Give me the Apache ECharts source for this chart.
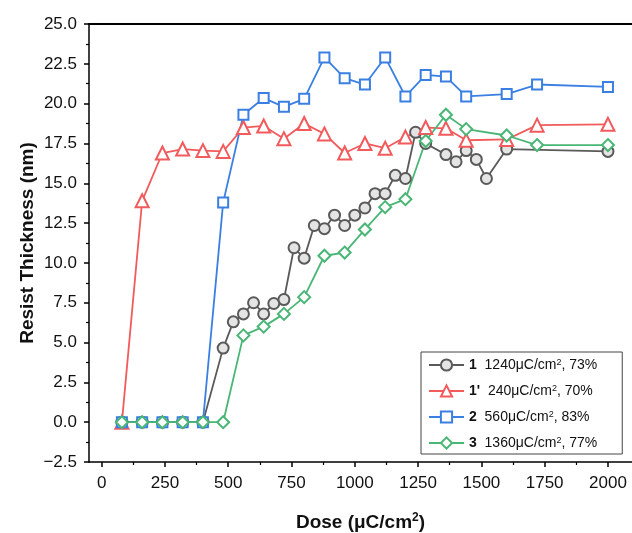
<!DOCTYPE html>
<html>
<head>
<meta charset="utf-8">
<script src="https://cdn.jsdelivr.net/npm/echarts@6/dist/echarts.min.js"></script>
<style>
html,body{margin:0;padding:0;background:#fff;}
#chart{width:632px;height:533px;}
</style>
</head>
<body>
<div id="chart"></div>
<script>
// ---- data ----
var doseGray = [80,160,240,320,400,480,520,560,600,640,680,720,760,800,840,880,920,960,1000,1040,1080,1120,1160,1200,1240,1280,1360,1400,1440,1480,1520,1600,2000];
var thickGray = [0,0,0,0,0,4.65,6.3,6.8,7.5,6.8,7.45,7.7,10.95,10.3,12.35,12.15,13.0,12.35,13.0,13.45,14.35,14.35,15.5,15.3,18.2,17.5,16.8,16.35,17.05,16.5,15.3,17.15,17.0];

var doseRed = [80,160,240,320,400,480,560,640,720,800,880,960,1040,1120,1200,1280,1360,1440,1600,1720,2000];
var thickRed = [0,13.9,16.9,17.15,17.05,17.0,18.5,18.6,17.8,18.75,18.1,16.9,17.5,17.2,17.9,18.5,18.45,17.7,17.75,18.65,18.7];

var doseBlue = [80,160,240,320,400,480,560,640,720,800,880,960,1040,1120,1200,1280,1360,1440,1600,1720,2000];
var thickBlue = [0,0,0,0,0,13.8,19.3,20.35,19.8,20.3,22.9,21.6,21.2,22.9,20.45,21.8,21.7,20.45,20.6,21.2,21.05];

var doseGreen = [80,160,240,320,400,480,560,640,720,800,880,960,1040,1120,1200,1280,1360,1440,1600,1720,2000];
var thickGreen = [0,0,0,0,0,0,5.45,6.0,6.8,7.85,10.45,10.65,12.1,13.5,14.0,17.65,19.3,18.4,18.0,17.4,17.4];

var xTickValues = [0,250,500,750,1000,1250,1500,1750,2000];
var xMinorValues = [125,375,625,875,1125,1375,1625,1875];

var seriesNames = ['1', "1'", '2', '3'];
var legendLabels = {
  '1': ['1', '1240μC/cm', '2', ', 73%'],
  "1'": ["1'", '240μC/cm', '2', ', 70%'],
  '2': ['2', '560μC/cm', '2', ', 83%'],
  '3': ['3', '1360μC/cm', '2', ', 77%']
};

function pairs(xs, ys) { return xs.map(function (x, i) { return [x, ys[i]]; }); }

var FONT = '"Liberation Sans", Arial, sans-serif';

var chart = echarts.init(document.getElementById('chart'), null, {renderer: 'canvas'});

function lineSeries(name, xs, ys, color, symbol, size, fill) {
  return {
    name: name, type: 'line', xAxisIndex: 0, yAxisIndex: 0,
    data: pairs(xs, ys),
    symbol: symbol, symbolSize: size,
    showAllSymbol: true,
    lineStyle: {color: color, width: 1.8},
    itemStyle: {color: fill, borderColor: color, borderWidth: 2},
    emphasis: {disabled: true},
    animation: false
  };
}

var option = {
  animation: false,
  backgroundColor: '#fff',
  grid: {left: 89, right: 0, top: 24, bottom: 71, containLabel: false, outerBoundsMode: 'none'},
  legend: {
    orient: 'vertical', left: 421, top: 352,
    padding: [6, 25, 3, 7],
    itemWidth: 35, itemHeight: 14, itemGap: 11,
    borderColor: '#444', borderWidth: 1,
    data: seriesNames,
    formatter: function (name) {
      var p = legendLabels[name];
      return '{b|' + p[0] + '}{t|  ' + p[1] + '}{s|' + p[2] + '}{t|' + p[3] + '}';
    },
    textStyle: {
      fontFamily: FONT, color: '#111', fontSize: 14,
      rich: {
        b: {fontFamily: FONT, fontWeight: 'bold', fontSize: 14, color: '#111', lineHeight: 14},
        t: {fontFamily: FONT, fontSize: 14, color: '#111', lineHeight: 14},
        s: {fontFamily: FONT, fontSize: 9, color: '#111', lineHeight: 14, verticalAlign: 'top', padding: [0, 0, 6, 0]}
      }
    }
  },
  xAxis: [
    {
      type: 'value', min: -50, max: 2095, position: 'bottom',
      name: '{n|Dose (μC/cm}{s|2}{n|)}',
      nameLocation: 'middle', nameGap: 50, nameMoveOverlap: false,
      nameTextStyle: {
        rich: {
          n: {fontFamily: FONT, fontWeight: 'bold', fontSize: 19, color: '#111', lineHeight: 22},
          s: {fontFamily: FONT, fontWeight: 'bold', fontSize: 12, color: '#111', lineHeight: 22, verticalAlign: 'top', padding: [0, 0, 8, 0]}
        }
      },
      axisLine: {show: true, onZero: false, lineStyle: {color: '#000', width: 1.5}},
      axisTick: {show: true, length: 5, customValues: xTickValues, lineStyle: {color: '#000', width: 1.5}},
      axisLabel: {show: true, customValues: xTickValues, margin: 13, fontFamily: FONT, fontSize: 17, color: '#111',
        formatter: function (v) { return String(v); }},
      splitLine: {show: false}
    },
    {
      type: 'value', min: -50, max: 2095, position: 'bottom',
      axisLine: {show: false, onZero: false},
      axisTick: {show: true, length: 3, customValues: xMinorValues, lineStyle: {color: '#000', width: 1.2}},
      axisLabel: {show: false},
      splitLine: {show: false}
    },
    {
      type: 'value', min: -50, max: 2095, position: 'top',
      axisLine: {show: true, onZero: false, lineStyle: {color: '#000', width: 2}},
      axisTick: {show: false},
      axisLabel: {show: false},
      splitLine: {show: false}
    }
  ],
  yAxis: [{
    type: 'value', min: -2.5, max: 25, interval: 2.5,
    name: 'Resist Thickness (nm)',
    nameLocation: 'middle', nameGap: 52, nameMoveOverlap: false,
    nameTextStyle: {fontFamily: FONT, fontWeight: 'bold', fontSize: 19, color: '#111'},
    axisLine: {show: true, onZero: false, lineStyle: {color: '#000', width: 1.5}},
    axisTick: {show: true, length: 5, lineStyle: {color: '#000', width: 1.5}},
    minorTick: {show: true, splitNumber: 2, length: 3, lineStyle: {color: '#000', width: 1.2}},
    axisLabel: {
      margin: 12, fontFamily: FONT, fontSize: 17, color: '#111',
      formatter: function (v) { var s = Math.abs(v).toFixed(1); return v < 0 ? '\u2212' + s : s; }
    },
    splitLine: {show: false}
  }],
  series: [
    lineSeries('1', doseGray, thickGray, '#5a5a5a', 'circle', 11, '#e4e4e4'),
    lineSeries("1'", doseRed, thickRed, '#f25a5c', 'triangle', 13, '#ffffff'),
    lineSeries('2', doseBlue, thickBlue, '#3a7fe2', 'rect', 10, '#ffffff'),
    lineSeries('3', doseGreen, thickGreen, '#4ab676', 'diamond', 12, '#ffffff')
  ]
};
chart.setOption(option);
</script>
</body>
</html>
